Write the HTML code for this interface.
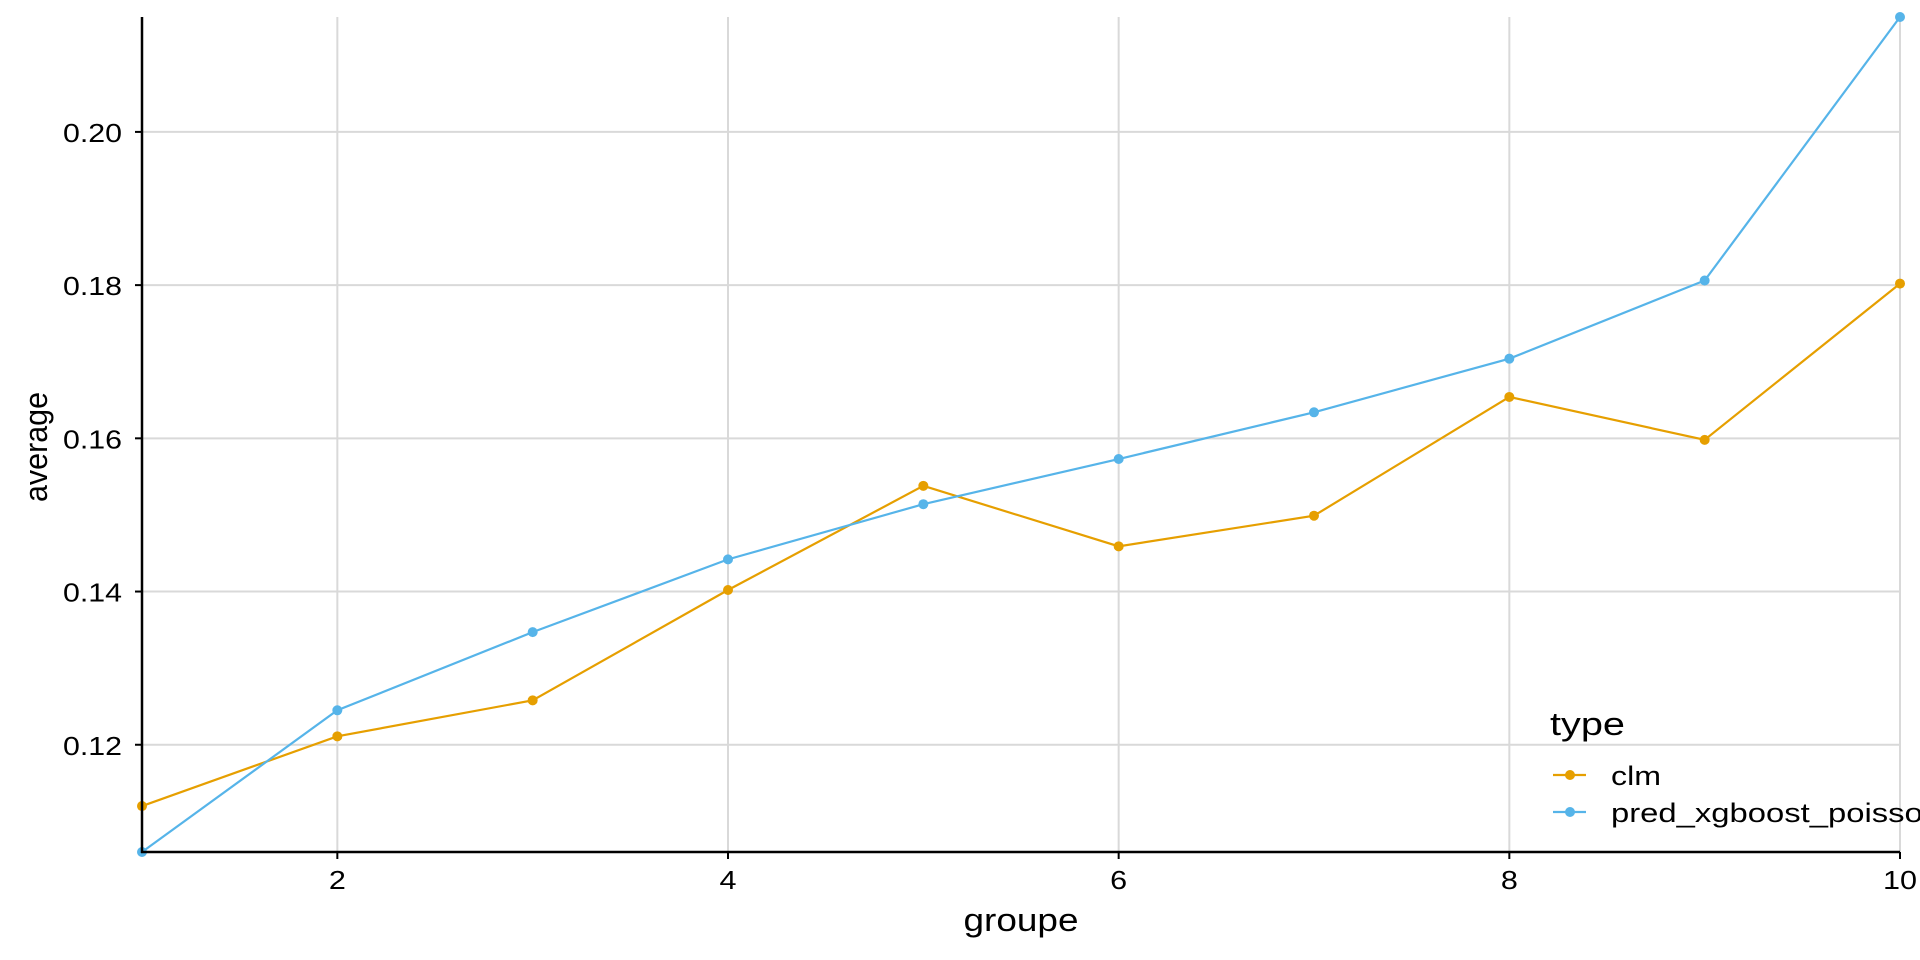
<!DOCTYPE html>
<html><head><meta charset="utf-8"><style>
html,body{margin:0;padding:0;background:#fff;overflow:hidden}
svg{display:block;font-family:"Liberation Sans",Arial,sans-serif}
</style></head><body>
<svg id="chart" width="1920" height="960" viewBox="0 0 1920 960">
<g id="grid"></g>
<g id="series"></g>
<g id="axes"></g>
<text x="1021" y="931" font-size="32" text-anchor="middle" textLength="115" lengthAdjust="spacingAndGlyphs">groupe</text>
<text transform="translate(47,447) rotate(-90)" font-size="32" text-anchor="middle" textLength="110" lengthAdjust="spacingAndGlyphs">average</text>
<g>
<text x="1550" y="735" font-size="32" textLength="75" lengthAdjust="spacingAndGlyphs">type</text>
<g>
<line x1="1553" y1="775" x2="1586" y2="775" stroke="#E69F00" stroke-width="2.2"/>
<circle cx="1570" cy="775" r="5" fill="#E69F00"/>
<text x="1611" y="785" font-size="27" textLength="50" lengthAdjust="spacingAndGlyphs">clm</text></g>
<g>
<line x1="1553" y1="812" x2="1586" y2="812" stroke="#56B4E9" stroke-width="2.2"/>
<circle cx="1570" cy="812" r="5" fill="#56B4E9"/>
<text x="1611" y="822" font-size="27" textLength="330" lengthAdjust="spacingAndGlyphs">pred_xgboost_poisson</text></g>
</g>
</svg>
<script>
const groups=[1,2,3,4,5,6,7,8,9,10];
const clmValues=[0.1120,0.1211,0.1258,0.1402,0.1538,0.1459,0.1499,0.1654,0.1598,0.1802];
const xgbValues=[0.1060,0.1245,0.1347,0.1442,0.1514,0.1573,0.1634,0.1704,0.1806,0.2150];
const xTicks=[2,4,6,8,10];
const yTicks=[0.12,0.14,0.16,0.18,0.20];
const yTickLabels=["0.12","0.14","0.16","0.18","0.20"];
const NS="http://www.w3.org/2000/svg";
const X0=142,X1=1900,Y0=852,Y1=17,XMIN=1,XMAX=10,YMIN=0.106,YMAX=0.215;
function sx(v){return X0+(v-XMIN)/(XMAX-XMIN)*(X1-X0);}
function sy(v){return Y0-(v-YMIN)/(YMAX-YMIN)*(Y0-Y1);}
function mk(tag,attrs,parent){const e=document.createElementNS(NS,tag);for(const k in attrs)e.setAttribute(k,attrs[k]);parent.appendChild(e);return e;}
const grid=document.getElementById('grid'),axes=document.getElementById('axes'),series=document.getElementById('series');
yTicks.forEach((t,i)=>{
 const g=mk('line',{x1:X0,x2:X1,y1:sy(t),y2:sy(t),stroke:'#d9d9d9','stroke-width':2},grid);
 
 
 const tk=mk('line',{x1:X0-7,x2:X0,y1:sy(t),y2:sy(t),stroke:'#000','stroke-width':2},axes);
 
 
 const tx=mk('text',{x:X0-20,y:sy(t)+10,'font-size':26,'text-anchor':'end',textLength:59,lengthAdjust:'spacingAndGlyphs'},axes);
 tx.textContent=yTickLabels[i];
 
 
});
xTicks.forEach(t=>{
 const g=mk('line',{x1:sx(t),x2:sx(t),y1:Y1,y2:Y0,stroke:'#d9d9d9','stroke-width':2},grid);
 
 
 const tk=mk('line',{x1:sx(t),x2:sx(t),y1:Y0,y2:Y0+7,stroke:'#000','stroke-width':2},axes);
 
 
 const tx=mk('text',{x:sx(t),y:Y0+37,'font-size':26,'text-anchor':'middle',textLength:(String(t).length*17),lengthAdjust:'spacingAndGlyphs'},axes);
 tx.textContent=String(t);
 
 
});
const ya=mk('line',{x1:X0,x2:X0,y1:Y1,y2:Y0+1,stroke:'#000','stroke-width':2.5},axes);


const xa=mk('line',{x1:X0-1,x2:X1,y1:Y0,y2:Y0,stroke:'#000','stroke-width':2.5},axes);


function draw(vals,color,name){
 const pl=mk('polyline',{points:groups.map((g,i)=>sx(g)+','+sy(vals[i])).join(' '),fill:'none',stroke:color,'stroke-width':2.2},series);
 
 
 groups.forEach((g,i)=>{
  const c=mk('circle',{cx:sx(g),cy:sy(vals[i]),r:5,fill:color},series);
  
  
 });
}
draw(clmValues,'#E69F00','clm');
draw(xgbValues,'#56B4E9','xgboost');
</script>
</body></html>
